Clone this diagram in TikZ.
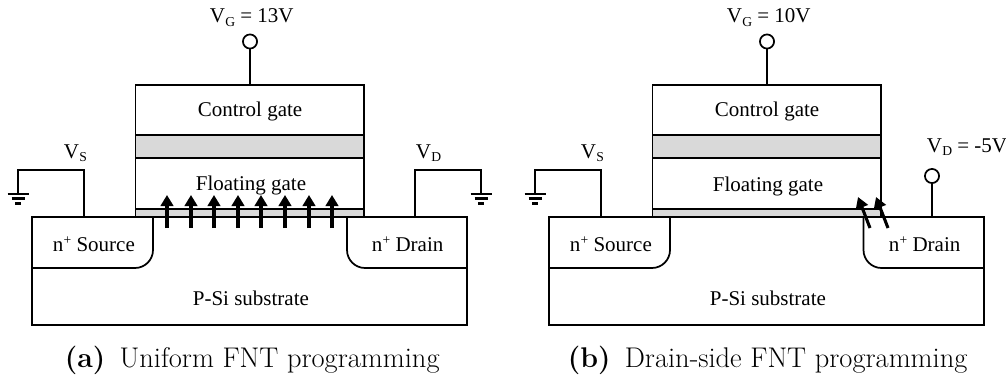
\documentclass[tikz,border=0pt]{standalone}
\usepackage{fontspec}
\usetikzlibrary{arrows.meta}
\newfontfamily\tnr{Liberation Serif}
\newcommand{\subV}[1]{V\kern0.2pt\raisebox{-2.6pt}{\fontsize{10.2pt}{12pt}\selectfont #1}}
\newcommand{\nplus}{n\kern0.2pt\raisebox{5pt}{\fontsize{10.2pt}{12pt}\selectfont +}}
\tikzset{
  lbl/.style={anchor=base west,inner sep=0pt,font=\tnr\fontsize{15.75pt}{18pt}\selectfont},
  captxt/.style={anchor=base west,inner sep=0pt,font=\fontsize{21.35pt}{24pt}\selectfont},
  layer/.style={draw,fill=white,anchor=north west,inner sep=0pt,outer sep=0pt,minimum width=171.4pt},
  oxide/.style={layer,fill=oxgrey},
  subst/.style={draw,fill=white,anchor=north west,inner sep=0pt,outer sep=0pt,minimum width=326.25pt,minimum height=81pt},
  term/.style={draw,circle,fill=white,inner sep=0pt,minimum size=10.6pt},
  inj/.style={line width=2.3pt,-{Triangle[length=8.3pt,width=9.4pt]}},
  gnd/.pic={\draw[line width=2pt] (-10.5,0)--(10.5,0) (-6.5,4.7)--(6.5,4.7) (-2.7,9.4)--(2.7,9.4);}
}
\definecolor{oxgrey}{RGB}{217,217,217}
\begin{document}
\begin{tikzpicture}[x=0.75pt,y=-0.75pt,line width=1.3pt]
\useasboundingbox (0,0) rectangle (1006,378);
% ---------- (a)
\node[subst] (asub) at (32,217) {};
\draw[rounded corners=13.5pt] (asub.west |- 0,268) -- (153,268) -- (153,217);
\draw[rounded corners=13.5pt] (asub.east |- 0,268) -- (347,268) -- (347,217);
\node[oxide,minimum height=6pt] (atun) at (135.5,209) {};
\node[layer,minimum height=38.25pt] (afg) at (135.5,158) {};
\node[oxide,minimum height=17.25pt] (aono) at (135.5,135) {};
\node[layer,minimum height=37.5pt] (acg) at (135.5,85) {};
\node[lbl] (acgt) at (197,117) {Control gate};
\node[lbl] (afgt) at (195,190.5) {Floating gate};
\node[lbl] (asrc) at (52,251) {\nplus\ Source};
\node[lbl] (adrn) at (371,251) {\nplus\ Drain};
\node[lbl] (asubt) at (192,305) {P-Si substrate};
\node[term] (avg) at (250,41.5) {};
\draw (avg) -- (avg |- acg.north);
\node[lbl] (avgt) at (209,23) {\subV{G} = 13V};
\coordinate (avsb) at (84,217);
\coordinate (agnds) at (18,194);
\draw (avsb) -- ++(0,-47) -| (agnds);
\pic at (agnds) {gnd};
\node[lbl] (avst) at (63,158) {\subV{S}};
\coordinate (avdb) at (415,217);
\coordinate (agndd) at (481,194);
\draw (avdb) -- ++(0,-47) -| (agndd);
\pic at (agndd) {gnd};
\node[lbl] (avdt) at (415,158) {\subV{D}};
\foreach \i/\xx in {1/167,2/191,3/214,4/238,5/261,6/285,7/309,8/332}{
  \coordinate (af\i) at (\xx,228);
  \coordinate (at\i) at (\xx,195);
  \draw[inj] (af\i) -- (at\i);
}
\node[captxt] (acap) at (64,367) {\textbf{(a)}\enspace Uniform FNT programming};
% ---------- (b)
\begin{scope}[shift={(517,0)}]
\node[subst] (bsub) at (32,217) {};
\draw[rounded corners=13.5pt] (bsub.west |- 0,268) -- (153,268) -- (153,217);
\draw[rounded corners=13.5pt] (bsub.east |- 0,268) -- (346.5,268) -- (346.5,217);
\node[oxide,minimum height=6pt] (btun) at (135.5,209) {};
\node[layer,minimum height=38.25pt] (bfg) at (135.5,158) {};
\node[oxide,minimum height=17.25pt] (bono) at (135.5,135) {};
\node[layer,minimum height=37.5pt] (bcg) at (135.5,85) {};
\node[lbl] (bcgt) at (197,117) {Control gate};
\node[lbl] (bfgt) at (195,191) {Floating gate};
\node[lbl] (bsrc) at (52,251) {\nplus\ Source};
\node[lbl] (bdrn) at (371,251) {\nplus\ Drain};
\node[lbl] (bsubt) at (192,305) {P-Si substrate};
\node[term] (bvg) at (250,41.5) {};
\draw (bvg) -- (bvg |- bcg.north);
\node[lbl] (bvgt) at (209,23) {\subV{G} = 10V};
\coordinate (bvsb) at (84,217);
\coordinate (bgnds) at (18,194);
\draw (bvsb) -- ++(0,-47) -| (bgnds);
\pic at (bgnds) {gnd};
\node[lbl] (bvst) at (63,158) {\subV{S}};
\node[term] (bvd) at (415,176) {};
\coordinate (bvdb) at (415,217);
\draw (bvd) -- (bvdb);
\node[lbl] (bvdt) at (409,152) {\subV{D} = -5V};
\coordinate (bf1) at (353,228);
\coordinate (bt1) at (341,197);
\coordinate (bf2) at (371,228);
\coordinate (bt2) at (359,197);
\draw[inj] (bf1) -- (bt1);
\draw[inj] (bf2) -- (bt2);
\end{scope}
\node[captxt] (bcap) at (567,367) {\textbf{(b)}\enspace Drain-side FNT programming};
\end{tikzpicture}
\end{document}
